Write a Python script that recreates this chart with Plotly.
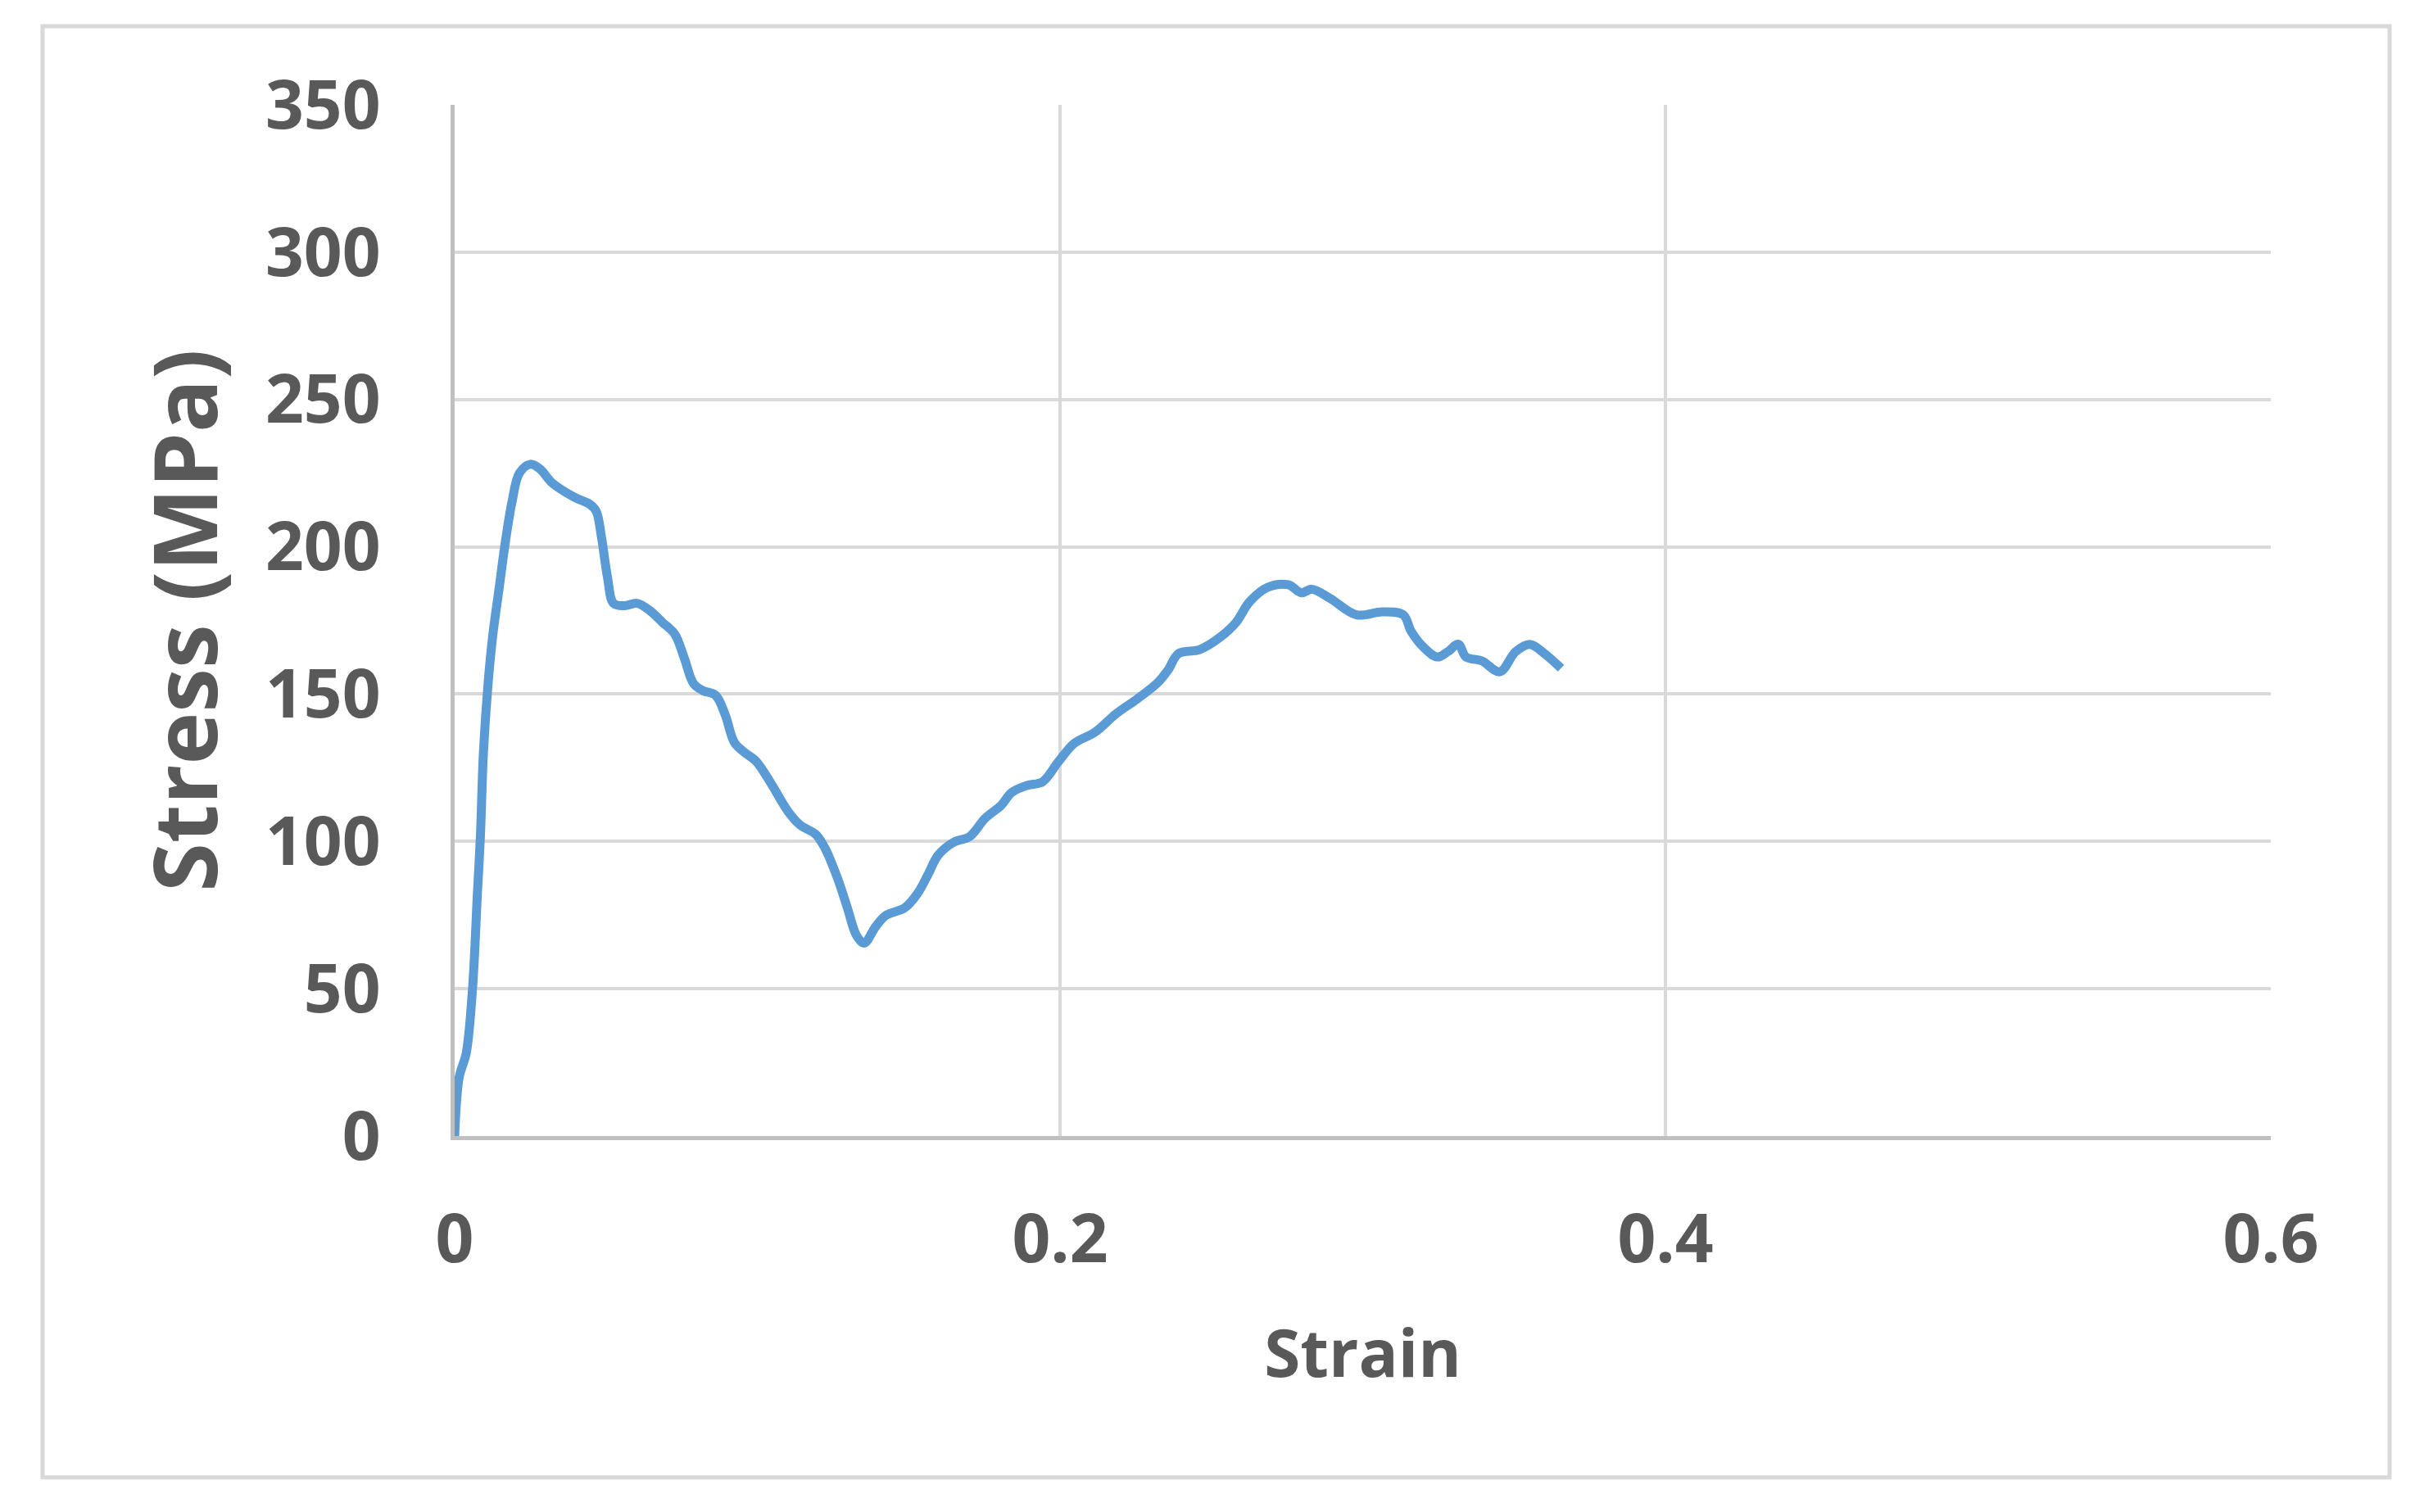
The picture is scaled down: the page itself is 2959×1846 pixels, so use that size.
import plotly.graph_objects as go

# strain / stress
strain = [0.0, 0.0015, 0.0038, 0.0059, 0.0075, 0.0085, 0.0095, 0.011, 0.0126, 0.0147, 0.0168,
          0.0189, 0.0214, 0.025, 0.0282, 0.0323, 0.0396, 0.0447, 0.0468, 0.0484, 0.0505, 0.0525, 0.0561,
          0.0603, 0.0644, 0.0686, 0.0727, 0.0758, 0.0789, 0.082, 0.0862, 0.0893, 0.0924, 0.0955, 0.0996,
          0.1048, 0.11, 0.1141, 0.1193, 0.1224, 0.1266, 0.1297, 0.1328, 0.1353, 0.1391, 0.1425, 0.1486,
          0.1529, 0.1563, 0.1598, 0.165, 0.1701, 0.1753, 0.1805, 0.184, 0.1891, 0.1943, 0.1995, 0.2047,
          0.2116, 0.2185, 0.2254, 0.2323, 0.2357, 0.2392, 0.2461, 0.253, 0.2582, 0.2625, 0.2685, 0.2754,
          0.2797, 0.2832, 0.2892, 0.2979, 0.3065, 0.3134, 0.316, 0.3203, 0.3246, 0.3281, 0.3316, 0.3341,
          0.3393, 0.3453, 0.3505, 0.3552, 0.36, 0.3655]
stress = [0, 20, 28, 50, 82, 101.6, 130, 153, 170, 186, 202,
          215, 225, 228, 226.4, 221.6, 216.8, 214.4, 212, 204, 189.6, 180.8, 180,
          180.8, 178.4, 174.4, 170.4, 162.4, 153.6, 151.2, 149.6, 143.2, 133.6, 130.4, 127.2,
          119.2, 110.4, 105.6, 102.4, 97.6, 87.2, 77.6, 68, 65.5, 71.1, 74.9, 77.4,
          82.3, 88.6, 95.4, 99.8, 101.6, 107.9, 112.2, 116.6, 119, 120.3, 127.1, 133.3,
          137.1, 143.3, 148.3, 153.9, 158.2, 163.8, 165.1, 169.4, 174.4, 181.2, 186.2, 187.1,
          184.4, 185.6, 182.5, 176.9, 177.9, 176.9, 171.3, 165.7, 162.6, 164.4, 166.9, 162.6,
          161.3, 157.6, 164.4, 166.9, 163.8, 158.8]

x_ticks = [0, 0.2, 0.4, 0.6]
x_labels = ["0", "0.2", "0.4", "0.6"]
y_ticks = [0, 50, 100, 150, 200, 250, 300, 350]

fnt = "Open Sans, Noto Sans, sans-serif"
grey = "#595959"

fig = go.Figure()
fig.add_trace(go.Scatter(x=strain, y=stress, mode="lines",
                         line=dict(color="#5b9bd5", width=11, shape="spline", smoothing=1.0)))

fig.update_layout(
    width=2959, height=1846,
    margin=dict(l=547, r=195, t=120, b=467),
    paper_bgcolor="white", plot_bgcolor="white",
    showlegend=False,
    font=dict(family=fnt, color=grey),
)
fig.update_xaxes(range=[0, 0.6], tickvals=x_ticks, ticktext=x_labels,
                 showgrid=True, gridcolor="#d9d9d9", gridwidth=4,
                 showline=True, linecolor="#bfbfbf", linewidth=5, zeroline=False,
                 tickfont=dict(size=82, family=fnt, color=grey, weight="bold"),
                 ticklabelstandoff=51,
                 title=dict(text="Strain", font=dict(size=80, family=fnt, color=grey, weight="bold"),
                            standoff=62))
fig.update_yaxes(range=[0, 350], tickvals=y_ticks,
                 showgrid=True, gridcolor="#d9d9d9", gridwidth=4,
                 showline=True, linecolor="#bfbfbf", linewidth=5, zeroline=False,
                 tickfont=dict(size=82, family=fnt, color=grey, weight="bold"),
                 ticklabelstandoff=69,
                 title=dict(text="Stress (MPa)", font=dict(size=108, family=fnt, color=grey, weight="bold"),
                            standoff=24))

# outer frame round the whole chart
fig.add_shape(type="rect", xref="paper", yref="paper",
              x0=-0.2269, x1=1.0654, y0=-0.331, y1=1.0763,
              line=dict(color="#d9d9d9", width=5), layer="below")

fig.write_html("out.html")
